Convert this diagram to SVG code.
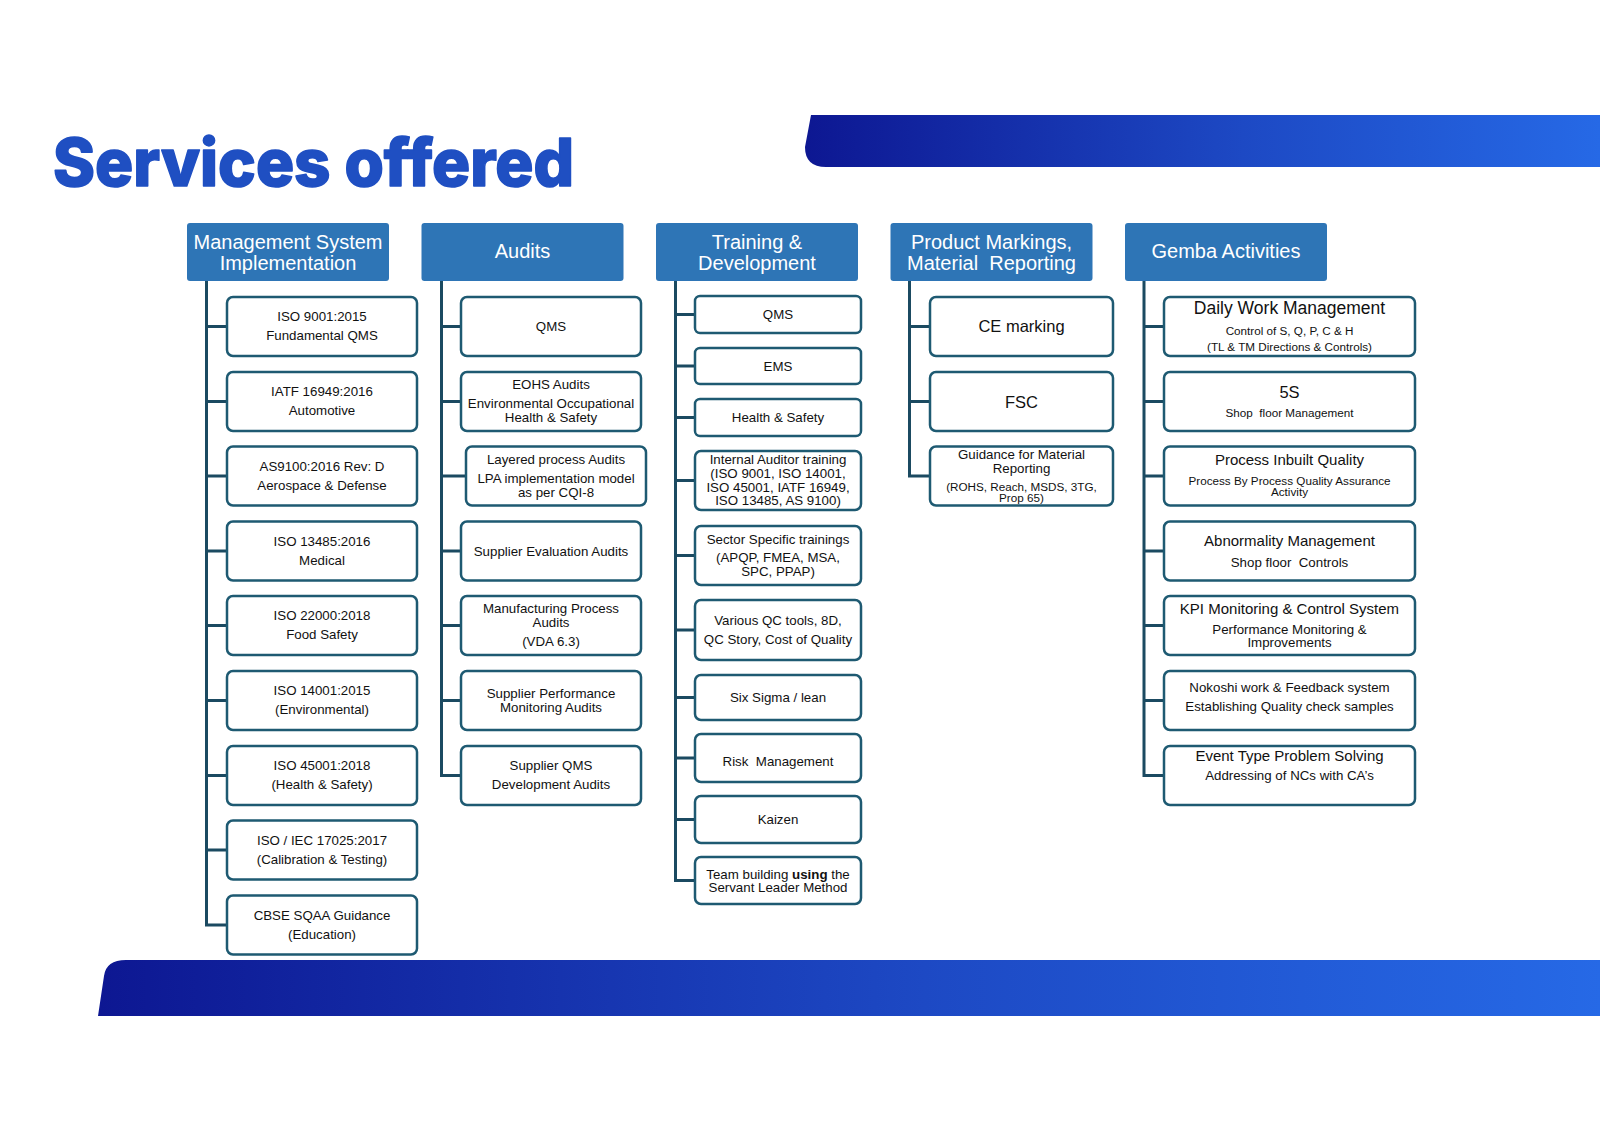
<svg xmlns="http://www.w3.org/2000/svg" width="1600" height="1132" viewBox="0 0 1600 1132">
<defs>
<linearGradient id="band" x1="0" y1="0" x2="1" y2="0">
<stop offset="0" stop-color="#0d1792"/>
<stop offset="0.55" stop-color="#1d49c4"/>
<stop offset="1" stop-color="#2669e6"/>
</linearGradient>
<style>
.hdr{fill:#2e75b6}
.ht{font-family:"Liberation Sans",Arial,sans-serif;font-size:20px;fill:#ffffff;text-anchor:middle}
.box{fill:#ffffff;stroke:#1e5a72;stroke-width:2.5}
.t{font-family:"Liberation Sans",Arial,sans-serif;font-size:13.3px;fill:#111111;text-anchor:middle}
.s{font-size:11.7px}
.m{font-size:15px}
.l{font-size:16.5px}
.xl{font-size:17.5px}
.conn path{stroke:#1b4a61;stroke-width:3;fill:none}
</style>
</defs>
<rect width="1600" height="1132" fill="#ffffff"/>
<path d="M811,115 L1600,115 L1600,167 L826,167 Q805,167 805,147 Z" fill="url(#band)"/>
<path d="M98,1016 L104,976 Q106,960 126,960 L1600,960 L1600,1016 Z" fill="url(#band)"/>
<text x="53" y="186" font-family="Inter,'Open Sans',sans-serif" font-weight="800" font-size="66" fill="#1f4fc2" stroke="#1f4fc2" stroke-width="1.6" stroke-linejoin="round" textLength="521" lengthAdjust="spacingAndGlyphs">Services offered</text>

<g class="conn">
<path d="M206.5,281 V925 M206.5,326.5 H227 M206.5,401.5 H227 M206.5,476 H227 M206.5,551 H227 M206.5,625.5 H227 M206.5,700.5 H227 M206.5,775.5 H227 M206.5,850 H227 M205,925 H227"/>
<path d="M441.5,281 V775.5 M441.5,326.5 H461 M441.5,401.5 H461 M441.5,476 H466 M441.5,551 H461 M441.5,625.5 H461 M441.5,700.5 H461 M440,775.5 H461"/>
<path d="M675.5,281 V880.5 M675.5,314.5 H695 M675.5,366 H695 M675.5,417.5 H695 M675.5,480.5 H695 M675.5,555.5 H695 M675.5,630 H695 M675.5,697.5 H695 M675.5,758 H695 M675.5,819.5 H695 M674,880.5 H695"/>
<path d="M909.5,281 V476 M909.5,326.5 H930 M909.5,401.5 H930 M908,476 H930"/>
<path d="M1144,281 V775.5 M1144,326.5 H1164 M1144,401.5 H1164 M1144,476 H1164 M1144,551 H1164 M1144,625.5 H1164 M1144,700.5 H1164 M1142.5,775.5 H1164"/>
</g>

<g id="h-msi"><rect class="hdr" x="187" y="223" width="202" height="58" rx="3"/><text class="ht" x="288" y="249">Management System</text><text class="ht" x="288" y="269.5">Implementation</text></g>
<g id="h-audits"><rect class="hdr" x="421.5" y="223" width="202" height="58" rx="3"/><text class="ht" x="522.5" y="258">Audits</text></g>
<g id="h-training"><rect class="hdr" x="656" y="223" width="202" height="58" rx="3"/><text class="ht" x="757" y="249">Training &amp;</text><text class="ht" x="757" y="269.5">Development</text></g>
<g id="h-product"><rect class="hdr" x="890.5" y="223" width="202" height="58" rx="3"/><text class="ht" x="991.5" y="249">Product Markings,</text><text class="ht" x="991.5" y="269.5" xml:space="preserve">Material  Reporting</text></g>
<g id="h-gemba"><rect class="hdr" x="1125" y="223" width="202" height="58" rx="3"/><text class="ht" x="1226" y="258">Gemba Activities</text></g>

<g id="m1"><rect class="box" x="227" y="297" width="190" height="59" rx="6"/><text class="t" x="322" y="321">ISO 9001:2015</text><text class="t" x="322" y="340">Fundamental QMS</text></g>
<g id="m2"><rect class="box" x="227" y="372" width="190" height="59" rx="6"/><text class="t" x="322" y="396">IATF 16949:2016</text><text class="t" x="322" y="415">Automotive</text></g>
<g id="m3"><rect class="box" x="227" y="446.5" width="190" height="59" rx="6"/><text class="t" x="322" y="470.5">AS9100:2016 Rev: D</text><text class="t" x="322" y="489.5">Aerospace &amp; Defense</text></g>
<g id="m4"><rect class="box" x="227" y="521.5" width="190" height="59" rx="6"/><text class="t" x="322" y="545.5">ISO 13485:2016</text><text class="t" x="322" y="564.5">Medical</text></g>
<g id="m5"><rect class="box" x="227" y="596" width="190" height="59" rx="6"/><text class="t" x="322" y="620">ISO 22000:2018</text><text class="t" x="322" y="639">Food Safety</text></g>
<g id="m6"><rect class="box" x="227" y="671" width="190" height="59" rx="6"/><text class="t" x="322" y="695">ISO 14001:2015</text><text class="t" x="322" y="714">(Environmental)</text></g>
<g id="m7"><rect class="box" x="227" y="746" width="190" height="59" rx="6"/><text class="t" x="322" y="770">ISO 45001:2018</text><text class="t" x="322" y="789">(Health &amp; Safety)</text></g>
<g id="m8"><rect class="box" x="227" y="820.5" width="190" height="59" rx="6"/><text class="t" x="322" y="844.5">ISO / IEC 17025:2017</text><text class="t" x="322" y="863.5">(Calibration &amp; Testing)</text></g>
<g id="m9"><rect class="box" x="227" y="895.5" width="190" height="59" rx="6"/><text class="t" x="322" y="919.5">CBSE SQAA Guidance</text><text class="t" x="322" y="938.5">(Education)</text></g>

<g id="a1"><rect class="box" x="461" y="297" width="180" height="59" rx="6"/><text class="t" x="551" y="331">QMS</text></g>
<g id="a2"><rect class="box" x="461" y="372" width="180" height="59" rx="6"/><text class="t" x="551" y="389">EOHS Audits</text><text class="t" x="551" y="408">Environmental Occupational</text><text class="t" x="551" y="421.5">Health &amp; Safety</text></g>
<g id="a3"><rect class="box" x="466" y="446.5" width="180" height="59" rx="6"/><text class="t" x="556" y="463.5">Layered process Audits</text><text class="t" x="556" y="482.5">LPA implementation model</text><text class="t" x="556" y="496.5">as per CQI-8</text></g>
<g id="a4"><rect class="box" x="461" y="521.5" width="180" height="59" rx="6"/><text class="t" x="551" y="555.5">Supplier Evaluation Audits</text></g>
<g id="a5"><rect class="box" x="461" y="596" width="180" height="59" rx="6"/><text class="t" x="551" y="613">Manufacturing Process</text><text class="t" x="551" y="627">Audits</text><text class="t" x="551" y="645.5">(VDA 6.3)</text></g>
<g id="a6"><rect class="box" x="461" y="671" width="180" height="59" rx="6"/><text class="t" x="551" y="697.5">Supplier Performance</text><text class="t" x="551" y="711.5">Monitoring Audits</text></g>
<g id="a7"><rect class="box" x="461" y="746" width="180" height="59" rx="6"/><text class="t" x="551" y="769.5">Supplier QMS</text><text class="t" x="551" y="788.5">Development Audits</text></g>

<g id="t1"><rect class="box" x="695" y="296" width="166" height="37" rx="5"/><text class="t" x="778" y="319">QMS</text></g>
<g id="t2"><rect class="box" x="695" y="348" width="166" height="36" rx="5"/><text class="t" x="778" y="370.5">EMS</text></g>
<g id="t3"><rect class="box" x="695" y="399" width="166" height="37" rx="5"/><text class="t" x="778" y="421.5">Health &amp; Safety</text></g>
<g id="t4"><rect class="box" x="695" y="451" width="166" height="59" rx="6"/><text class="t" x="778" y="463.5">Internal Auditor training</text><text class="t" x="778" y="477.5">(ISO 9001, ISO 14001,</text><text class="t" x="778" y="491.5">ISO 45001, IATF 16949,</text><text class="t" x="778" y="505">ISO 13485, AS 9100)</text></g>
<g id="t5"><rect class="box" x="695" y="526" width="166" height="59" rx="6"/><text class="t" x="778" y="543.5">Sector Specific trainings</text><text class="t" x="778" y="561.5">(APQP, FMEA, MSA,</text><text class="t" x="778" y="575.5">SPC, PPAP)</text></g>
<g id="t6"><rect class="box" x="695" y="600" width="166" height="60" rx="6"/><text class="t" x="778" y="625">Various QC tools, 8D,</text><text class="t" x="778" y="643.5">QC Story, Cost of Quality</text></g>
<g id="t7"><rect class="box" x="695" y="675" width="166" height="45" rx="6"/><text class="t" x="778" y="701.5">Six Sigma / lean</text></g>
<g id="t8"><rect class="box" x="695" y="734" width="166" height="48" rx="6"/><text class="t" x="778" y="765.5" xml:space="preserve">Risk  Management</text></g>
<g id="t9"><rect class="box" x="695" y="796" width="166" height="47" rx="6"/><text class="t" x="778" y="823.5">Kaizen</text></g>
<g id="t10"><rect class="box" x="695" y="857" width="166" height="47" rx="6"/><text class="t" x="778" y="878.5">Team building <tspan font-weight="700">using</tspan> the</text><text class="t" x="778" y="892">Servant Leader Method</text></g>

<g id="p1"><rect class="box" x="930" y="297" width="183" height="59" rx="6"/><text class="t l" x="1021.5" y="332">CE marking</text></g>
<g id="p2"><rect class="box" x="930" y="372" width="183" height="59" rx="6"/><text class="t l" x="1021.5" y="407.5">FSC</text></g>
<g id="p3"><rect class="box" x="930" y="446.5" width="183" height="59" rx="6"/><text class="t" x="1021.5" y="458.5">Guidance for Material</text><text class="t" x="1021.5" y="472.5">Reporting</text><text class="t s" x="1021.5" y="490.5">(ROHS, Reach, MSDS, 3TG,</text><text class="t s" x="1021.5" y="501.5">Prop 65)</text></g>

<g id="g1"><rect class="box" x="1164" y="297" width="251" height="59" rx="6"/><text class="t xl" x="1289.5" y="313.5">Daily Work Management</text><text class="t s" x="1289.5" y="334.5">Control of S, Q, P, C &amp; H</text><text class="t s" x="1289.5" y="351">(TL &amp; TM Directions &amp; Controls)</text></g>
<g id="g2"><rect class="box" x="1164" y="372" width="251" height="59" rx="6"/><text class="t l" x="1289.5" y="397.5">5S</text><text class="t s" x="1289.5" y="417" xml:space="preserve">Shop  floor Management</text></g>
<g id="g3"><rect class="box" x="1164" y="446.5" width="251" height="59" rx="6"/><text class="t m" x="1289.5" y="465">Process Inbuilt Quality</text><text class="t s" x="1289.5" y="484.5">Process By Process Quality Assurance</text><text class="t s" x="1289.5" y="495.5">Activity</text></g>
<g id="g4"><rect class="box" x="1164" y="521.5" width="251" height="59" rx="6"/><text class="t m" x="1289.5" y="546">Abnormality Management</text><text class="t" x="1289.5" y="566.5" xml:space="preserve">Shop floor  Controls</text></g>
<g id="g5"><rect class="box" x="1164" y="596" width="251" height="59" rx="6"/><text class="t m" x="1289.5" y="613.5">KPI Monitoring &amp; Control System</text><text class="t" x="1289.5" y="633.5">Performance Monitoring &amp;</text><text class="t" x="1289.5" y="647">Improvements</text></g>
<g id="g6"><rect class="box" x="1164" y="671" width="251" height="59" rx="6"/><text class="t" x="1289.5" y="691.5">Nokoshi work &amp; Feedback system</text><text class="t" x="1289.5" y="710.5">Establishing Quality check samples</text></g>
<g id="g7"><rect class="box" x="1164" y="746" width="251" height="59" rx="6"/><text class="t m" x="1289.5" y="761">Event Type Problem Solving</text><text class="t" x="1289.5" y="780">Addressing of NCs with CA’s</text></g>
</svg>
